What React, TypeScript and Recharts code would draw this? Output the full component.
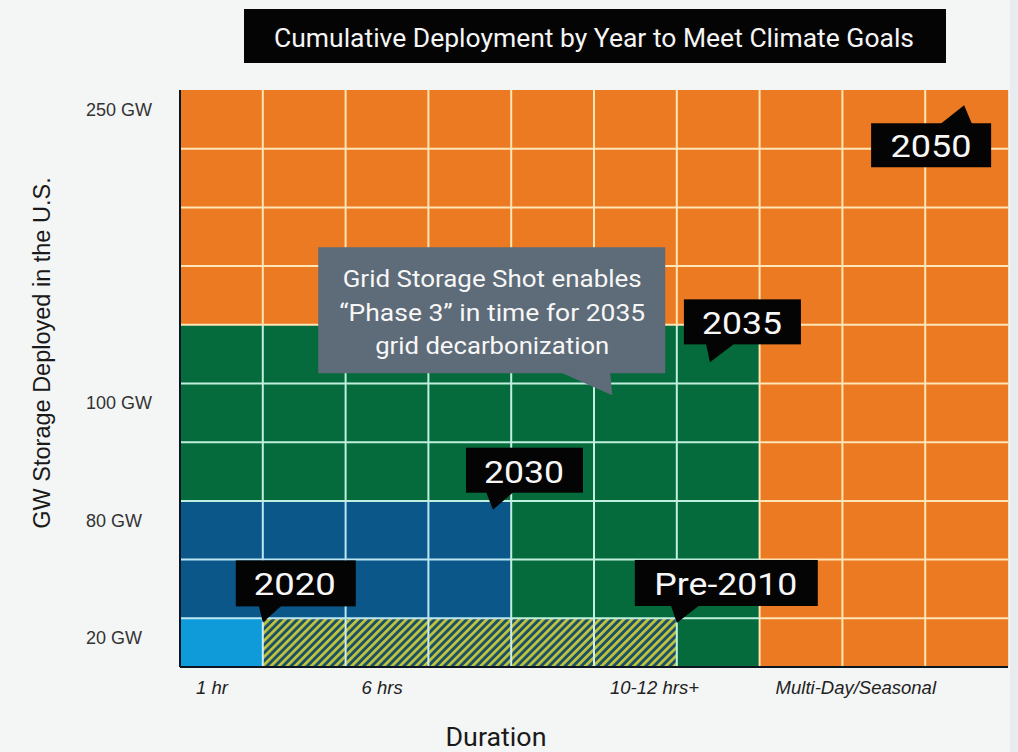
import React from 'react';
import { BarChart, Bar, XAxis, YAxis, ReferenceDot } from 'recharts';

// Duration columns, left to right
const columnIds = [0, 1, 2, 3, 4, 5, 6, 7, 8, 9];
const durationLabels = ['1 hr', '', '6 hrs', '', '', '10-12 hrs+', '', 'Multi-Day/Seasonal', '', ''];

// Capacity rows, bottom to top (the bottom row is a bit shorter)
const rowHeights = [0.83, 1, 1, 1, 1, 1, 1, 1, 1, 1];
const capacityTicks = [0.83, 2.83, 4.83, 9.83];
const capacityLabels = ['20 GW', '80 GW', '100 GW', '250 GW'];

// Height reached by each deployment era in every duration column (row units)
const deployed2020 = [0.83, 0, 0, 0, 0, 0, 0, 0, 0, 0];
const deployedPre2010 = [0, 0.83, 0.83, 0.83, 0.83, 0.83, 0, 0, 0, 0];
const deployed2030 = [2, 2, 2, 2, 0, 0, 0, 0, 0, 0];
const deployed2035 = [3, 3, 3, 3, 5, 5, 5.83, 0, 0, 0];
const deployed2050 = [4, 4, 4, 4, 4, 4, 4, 9.83, 9.83, 9.83];

const TOP = rowHeights.reduce((a, b) => a + b, 0);
const rowBoundaries: number[] = [];
rowHeights.reduce((acc, h, i) => {
  const next = acc + h;
  if (i < rowHeights.length - 1) rowBoundaries.push(next);
  return next;
}, 0);

type Era = { key: string; values: number[]; fill: string; line: string };
const eras: Era[] = [
  { key: 'y2020', values: deployed2020, fill: '#0f9bd9', line: '#bfeaf7' },
  { key: 'pre2010', values: deployedPre2010, fill: 'hatch', line: '#cfecf0' },
  { key: 'y2030', values: deployed2030, fill: '#0b578a', line: '#bce7f2' },
  { key: 'y2035', values: deployed2035, fill: '#066b3c', line: '#c0efdf' },
  { key: 'y2050', values: deployed2050, fill: '#ec7a23', line: '#fde5b6' },
];

const chartData = columnIds.map((col, i) => {
  const row: Record<string, number> = { col };
  eras.forEach((e) => {
    row[e.key] = e.values[i];
  });
  return row;
});

// Each column spans [col, col + 1] on the continuous duration axis used by the callouts
const columnSpan = (d: Record<string, number>) => [d.col, d.col + 1];

// Callouts: the tail tip sits on a data point; the box is laid out around it
type Callout = {
  id: string;
  lines: string[];
  tipX: number;
  tipY: number;
  box: [number, number, number, number]; // left, right, top, bottom (px from tip)
  tail: [number, number]; // tail base, px from tip along the box edge
  textX: number;
  baselines: number[];
  lengths: number[];
  fontSize: number;
  fill: string;
};

const callouts: Callout[] = [
  {
    id: 'c2050', lines: ['2050'], tipX: 9.47, tipY: 9.57,
    box: [-93, 27, 18, 62], tail: [-24, 8], textX: -33, baselines: [52], lengths: [81], fontSize: 32, fill: '#040404',
  },
  {
    id: 'c2035', lines: ['2035'], tipX: 6.4, tipY: 5.19,
    box: [-26, 91, -63, -18], tail: [-4, 25], textX: 32, baselines: [-28], lengths: [80], fontSize: 32, fill: '#040404',
  },
  {
    id: 'c2030', lines: ['2030'], tipX: 3.78, tipY: 2.68,
    box: [-27, 90, -62, -17], tail: [-7, 21], textX: 31, baselines: [-27], lengths: [80], fontSize: 32, fill: '#040404',
  },
  {
    id: 'c2020', lines: ['2020'], tipX: 1.0, tipY: 0.76,
    box: [-27, 93, -62, -16], tail: [-4, 19], textX: 32, baselines: [-27], lengths: [82], fontSize: 32, fill: '#040404',
  },
  {
    id: 'cpre', lines: ['Pre-2010'], tipX: 6.0, tipY: 0.75,
    box: [-42, 141, -63, -17], tail: [-6, 23], textX: 49, baselines: [-28], lengths: [143], fontSize: 32, fill: '#040404',
  },
  {
    id: 'cshot',
    lines: ['Grid Storage Shot enables', '\u201cPhase 3\u201d in time for 2035', 'grid decarbonization'],
    tipX: 5.22, tipY: 4.63,
    box: [-294, 53, -148, -22], tail: [-52, -2], textX: -120, baselines: [-108, -74.5, -41],
    lengths: [299, 306, 234], fontSize: 24, fill: '#5e6b78',
  },
];

const SANS = 'Roboto, "Liberation Sans", Arial, sans-serif';
const ARIAL = '"Liberation Sans", Arial, sans-serif';

function renderCallout(c: Callout, cx: number, cy: number) {
  const [l, r, t, b] = c.box;
  const below = t > 0; // box hangs below its tip
  const edge = below ? cy + t + 1 : cy + b - 1;
  const tailPts = `${cx + c.tail[0]},${edge} ${cx + c.tail[1]},${edge} ${cx},${cy}`;
  return (
    <g key={c.id}>
      <rect x={cx + l} y={cy + t} width={r - l} height={b - t} fill={c.fill} />
      <polygon points={tailPts} fill={c.fill} />
      {c.lines.map((line, i) => (
        <text
          key={i}
          x={cx + c.textX}
          y={cy + c.baselines[i]}
          textAnchor="middle"
          fontFamily={SANS}
          fontSize={c.fontSize}
          fill="#f7f7f7"
          textLength={c.lengths[i]}
          lengthAdjust="spacingAndGlyphs"
        >
          {line}
        </text>
      ))}
    </g>
  );
}

function makeCellShape(eraIndex: number) {
  return (props: any) => {
    const { x, y, width, height, payload } = props;
    const era = eras[eraIndex];
    const value = payload ? payload[era.key] : 0;
    if (!value || !height || height <= 0) return <g />;
    let low = 0;
    for (let k = 0; k < eraIndex; k++) low += payload[eras[k].key];
    const high = low + value;
    const ppu = height / value;
    const bottom = y + height;
    const lines: React.ReactNode[] = [];
    rowBoundaries.forEach((bnd) => {
      if (bnd > 1e-6 && bnd >= low - 1e-6 && bnd < high - 1e-6) {
        const ly = bottom - (bnd - low) * ppu;
        lines.push(
          <line key={`h${bnd}`} x1={x} x2={x + width} y1={ly} y2={ly} stroke={era.line} strokeWidth={2} />
        );
      }
    });
    if (payload.col > 0) {
      lines.push(<line key="v" x1={x} x2={x} y1={y} y2={bottom} stroke={era.line} strokeWidth={2} />);
    }
    const patternId = `hatch-${payload.col}`;
    return (
      <g>
        {era.fill === 'hatch' && (
          <defs>
            <pattern id={patternId} patternUnits="userSpaceOnUse" width={5.7} height={5.7} patternTransform="rotate(45)">
              <rect width={5.7} height={5.7} fill="#1b5163" />
              <rect width={2.7} height={5.7} fill="#c4c63f" />
            </pattern>
          </defs>
        )}
        <rect x={x} y={y} width={width} height={height} fill={era.fill === 'hatch' ? `url(#${patternId})` : era.fill} />
        {lines}
      </g>
    );
  };
}

const DurationTick = (props: any) => {
  const { x, y, payload } = props;
  const label = durationLabels[payload.value];
  if (!label) return <g />;
  const half = typeof payload.offset === 'number' && payload.offset > 0 ? payload.offset : 41.4;
  return (
    <text x={x - half + 16} y={y + 27} fontFamily={ARIAL} fontStyle="italic" fontSize={18.5} fill="#222">
      {label}
    </text>
  );
};

const CapacityTick = (props: any) => {
  const { x, y, payload } = props;
  const i = capacityTicks.findIndex((t) => Math.abs(t - payload.value) < 1e-6);
  if (i < 0) return <g />;
  return (
    <text x={x - 94} y={y + 26} fontFamily={ARIAL} fontSize={18} fill="#333">
      {capacityLabels[i]}
    </text>
  );
};

export default function App() {
  return (
    <div style={{ position: 'absolute', left: 0, top: 0, width: 1018, height: 752, background: '#f4f5f5', overflow: 'hidden' }}>
      <div style={{ position: 'absolute', right: 0, top: 0, width: 8, height: 752, background: '#e9ecee' }} />
      <BarChart
        width={1018}
        height={752}
        data={chartData}
        margin={{ top: 90, right: 10, bottom: 0, left: 0 }}
        barCategoryGap={0}
        barGap={0}
      >
        {eras.map((e, i) => (
          <Bar key={e.key} dataKey={e.key} stackId="deploy" isAnimationActive={false} shape={makeCellShape(i)} />
        ))}
        <XAxis
          dataKey="col"
          type="category"
          height={85}
          tickSize={0}
          tickMargin={0}
          tickLine={false}
          interval={0}
          axisLine={{ stroke: '#0c1620', strokeWidth: 2 }}
          tick={<DurationTick />}
        />
        <XAxis xAxisId="pos" dataKey={columnSpan} type="number" domain={[0, 10]} allowDataOverflow hide />
        <YAxis
          type="number"
          domain={[0, TOP]}
          allowDataOverflow
          ticks={capacityTicks}
          interval={0}
          width={180}
          tickSize={0}
          tickMargin={0}
          tickLine={false}
          axisLine={{ stroke: '#0c1620', strokeWidth: 2 }}
          tick={<CapacityTick />}
        />
        {callouts.map((c) => (
          <ReferenceDot
            key={c.id}
            xAxisId="pos"
            x={c.tipX}
            y={c.tipY}
            r={0}
            ifOverflow="visible"
            shape={(p: any) => renderCallout(c, p.cx, p.cy)}
          />
        ))}
      </BarChart>
      <svg width={1018} height={752} style={{ position: 'absolute', left: 0, top: 0, pointerEvents: 'none' }}>
        <rect x={244} y={9} width={702} height={54} fill="#040404" />
        <text x={594} y={46.5} textAnchor="middle" fontFamily={SANS} fontSize={25} fill="#f5f5f5" textLength={640} lengthAdjust="spacingAndGlyphs">
          Cumulative Deployment by Year to Meet Climate Goals
        </text>
        <text
          x={50}
          y={353}
          transform="rotate(-90 50 353)"
          textAnchor="middle"
          fontFamily={ARIAL}
          fontSize={23.5}
          fill="#1a1a1a"
        >
          GW Storage Deployed in the U.S.
        </text>
        <text x={496} y={746} textAnchor="middle" fontFamily={SANS} fontSize={25} fill="#1a1a1a" textLength={101} lengthAdjust="spacingAndGlyphs">
          Duration
        </text>
      </svg>
    </div>
  );
}
